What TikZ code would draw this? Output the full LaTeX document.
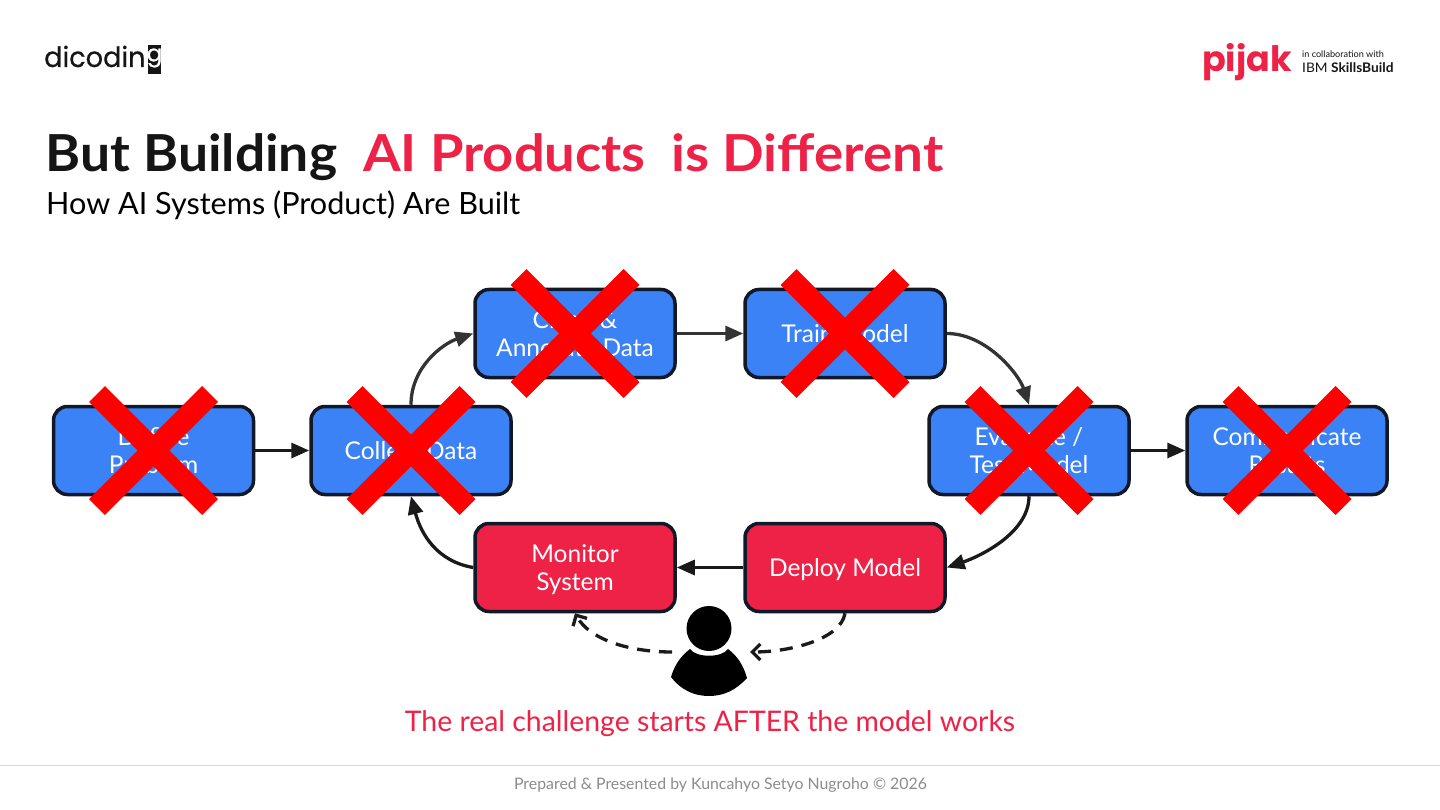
\documentclass[tikz,border=0pt]{standalone}
\usepackage{fontspec}
\usepackage{graphicx}
\setmainfont{Lato}
\newfontfamily\logofont{Poppins}[FakeBold=0.6]
\newfontfamily\logofontb{Poppins}
\usetikzlibrary{arrows.meta}
\definecolor{crim}{HTML}{EE2247}
\definecolor{bluebox}{HTML}{3B82F6}
\definecolor{edgedark}{HTML}{111827}
\definecolor{inka}{HTML}{1A1A1A}
\definecolor{inkb}{HTML}{333333}
\definecolor{titleink}{HTML}{151515}
\newcommand{\bt}{\rule{0pt}{23pt}}
\newcommand{\bb}{\rule[-5pt]{0pt}{5pt}}
\tikzset{
  base/.style={rectangle,rounded corners=14pt,draw=edgedark,line width=3.5pt,minimum width=200pt,minimum height=88pt,text=white,font=\fontsize{24.5}{28.5}\selectfont,align=center,inner sep=0pt},
  bluenode/.style={base,fill=bluebox},
  rednode/.style={base,fill=crim},
  xmark/.style={draw=red,line width=22.6pt,line cap=butt},
  flow/.style={line width=3.3pt,draw=inka,-{Triangle[length=18pt,width=15pt]}},
  flowb/.style={line width=3.3pt,draw=inkb,-{Triangle[length=18pt,width=15pt]}},
  dashflow/.style={line width=3.3pt,draw=inka,dash pattern=on 13pt off 9pt,-{Straight Barb[length=8pt,width=16pt]}},
  txt/.style={inner sep=0pt,anchor=base west}
}
\newcommand{\crossout}[1]{%
  \draw[xmark] ([shift={(-56.5,-56.5)}]#1.center) -- ([shift={(56.5,56.5)}]#1.center);
  \draw[xmark] ([shift={(56.5,-56.5)}]#1.center) -- ([shift={(-56.5,56.5)}]#1.center);}
\begin{document}
\begin{tikzpicture}[x=1pt,y=-1pt]
\useasboundingbox (0,0) rectangle (1440,810);
\fill[white] (0,0) rectangle (1440,810);
% logos
\node[txt,text=titleink,font=\logofont\fontsize{28}{28}\selectfont] (dico) at (44,67) {\scalebox{0.97}[1]{dicodin}};
\fill[titleink] (148,45) rectangle (161,74);
\node[inner sep=0pt,text=white,font=\logofont\fontsize{23}{23}\selectfont] (dicog) at (154.5,58) {g};
\node[txt,text=crim,font=\logofontb\bfseries\fontsize{35}{35}\selectfont] (pijak) at (1202,72) {pijak};
\node[txt,text=titleink,font=\fontsize{9.1}{10}\selectfont] (collab) at (1302,57.2) {in collaboration with};
\node[txt,text=titleink,font=\fontsize{13.2}{14}\selectfont] (ibm) at (1302,72.7) {\scalebox{1.04}[1]{IBM \textbf{SkillsBuild}}};
% heading
\node[txt,text=titleink,font=\bfseries\fontsize{51}{51}\selectfont] (t1) at (45.5,172) {\scalebox{1.047}[1]{But Building}};
\node[txt,text=crim,font=\bfseries\fontsize{51}{51}\selectfont] (t2) at (363,172) {\scalebox{1.064}[1]{AI Products}};
\node[txt,text=crim,font=\bfseries\fontsize{51}{51}\selectfont] (t3) at (671,172) {\scalebox{1.075}[1]{is Different}};
\node[txt,text=black,font=\fontsize{30.6}{31}\selectfont] (sub) at (46,215) {How AI Systems (Product) Are Built};
% boxes
\node[bluenode] (define) at (153.5,450.5) {\bt Define\\Problem\bb};
\node[bluenode] (collect) at (411,450.5) {\bt Collect Data\bb};
\node[bluenode] (clean) at (575,333.5) {\bt Clean \&\\Annotate Data\bb};
\node[bluenode] (train) at (845,333.5) {\bt Train Model\bb};
\node[bluenode] (eval) at (1029,450.5) {\bt Evaluate /\\Test Model\bb};
\node[bluenode] (comm) at (1287,450.5) {\bt Communicate\\Results\bb};
\node[rednode] (monitor) at (575,567.5) {\bt Monitor\\System\bb};
\node[rednode] (deploy) at (845,567.5) {\bt Deploy Model\bb};
% connectors
\draw[flow] (define.east) -- (collect.west);
\draw[flowb] (collect.north) .. controls +(0,-38) and +(-30,10) .. (clean.west);
\draw[flowb] (clean.east) -- (train.west);
\draw[flowb] (train.east) .. controls +(40,0) and +(-10,-30) .. (eval.north);
\draw[flow] (eval.east) -- (comm.west);
\draw[flow] (eval.south) .. controls +(0,38) and +(30,-10) .. (deploy.east);
\draw[flow] (deploy.west) -- (monitor.east);
\draw[flow] (monitor.west) .. controls +(-36,-6) and +(10,38) .. (collect.south);
% person
\node[circle,fill=black,minimum size=45pt,inner sep=0pt] (head) at (709,628.5) {};
\fill[black] (671,677) .. controls (675,664) and (681,656) .. (690,649)
  .. controls (696,658) and (722,658) .. (728,649)
  .. controls (737,656) and (743,664) .. (747,678)
  .. controls (736,690) and (724,696) .. (709,696)
  .. controls (694,696) and (681,690) .. (671,677) -- cycle;
\coordinate (pl) at (672,652);
\coordinate (pr) at (750,652);
\draw[dashflow] (deploy.south) .. controls +(-4,26) and +(40,0) .. (pr);
\draw[dashflow] (pl) .. controls (630,652) and (590,640) .. (monitor.south);
% crosses
\crossout{define}
\crossout{collect}
\crossout{clean}
\crossout{train}
\crossout{eval}
\crossout{comm}
% caption and footer
\node[inner sep=0pt,text=crim,font=\fontsize{28.4}{28}\selectfont] (cap) at (710,723.5) {The real challenge starts AFTER the model works};
\coordinate (fl) at (0,765);
\coordinate (fr) at (1440,765);
\draw[line width=1pt,draw=black!15] (fl) -- (fr);
\node[inner sep=0pt,text=black!45,font=\fontsize{15.85}{16}\selectfont] (foot) at (720.5,785.5) {Prepared \& Presented by Kuncahyo Setyo Nugroho © 2026};
\end{tikzpicture}
\end{document}
